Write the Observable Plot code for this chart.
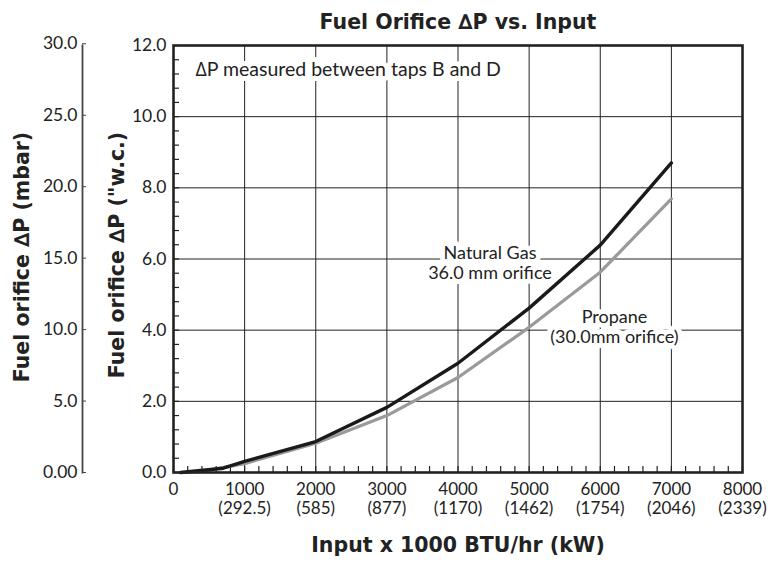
<!DOCTYPE html>
<html><head><meta charset="utf-8">
<script src="https://cdn.jsdelivr.net/npm/d3@7"></script>
<script src="https://cdn.jsdelivr.net/npm/@observablehq/plot@0.6"></script>
<style>
body{margin:0;background:#fff;}
svg{display:block}
</style>
</head><body><div id="chart"></div>
<script>
// --- data ---
const naturalGasInput = [100, 700, 1000, 2000, 3000, 4000, 5000, 6000, 7000];   // x 1000 BTU/hr
const naturalGasDP    = [0.0, 0.12, 0.31, 0.87, 1.83, 3.07, 4.62, 6.39, 8.70];  // "w.c.
const propaneInput    = [100, 400, 1000, 2000, 3000, 4000, 5000, 6000, 7000];
const propaneDP       = [0.0, 0.03, 0.25, 0.82, 1.60, 2.67, 4.08, 5.63, 7.69];

const xTicks   = [0, 1000, 2000, 3000, 4000, 5000, 6000, 7000, 8000];
const kwLabels = ["", "292.5", "585", "877", "1170", "1462", "1754", "2046", "2339"];
const yTicks   = [0, 2, 4, 6, 8, 10, 12];
const mbarTicks  = [0, 5, 10, 15, 20, 25, 30];
const mbarLabels = ["0.00", "5.0", "10.0", "15.0", "20.0", "25.0", "30.0"];
const MBAR_PER_INWC = 2.49;

const title      = "Fuel Orifice \u2206P vs. Input";
const noteText   = "\u2206P measured between taps B and D";
const ngLabel    = "Natural Gas\n36.0 mm orifice";
const lpLabel    = "Propane\n(30.0mm orifice)";
const xTitle     = "Input x 1000 BTU/hr (kW)";
const yTitleWC   = "Fuel orifice \u2206P (\"w.c.)";
const yTitleMbar = "Fuel orifice \u2206P (mbar)";

// --- build table ---
const series = [
  ...naturalGasInput.map((x, i) => ({fuel: "ng", x, y: naturalGasDP[i]})),
  ...propaneInput.map((x, i) => ({fuel: "lp", x, y: propaneDP[i]}))
];
const xMinor = d3.range(0, 8001, 200);
const yMinor = d3.range(0, 12.01, 0.4);
const kwFor = new Map(xTicks.map((v, i) => [v, kwLabels[i] ? `(${kwLabels[i]})` : null]));

const ink = "#222";
const font = "Lato, 'Open Sans', sans-serif";
const boldFont = "'DejaVu Sans', sans-serif";

const chart = Plot.plot({
  width: 770,
  height: 561,
  marginLeft: 173,
  marginRight: 28,
  marginTop: 45,
  marginBottom: 89,
  style: {fontFamily: font, fontSize: "17px", color: ink, background: "#fff"},
  x: {domain: [0, 8000]},
  y: {domain: [0, 12]},
  marks: [
    Plot.gridX(xTicks, {stroke: ink, strokeOpacity: 1, strokeWidth: 1}),
    Plot.gridY(yTicks, {stroke: ink, strokeOpacity: 1, strokeWidth: 1}),
    // inner minor ticks
    Plot.axisY(yMinor, {anchor: "left", tickSize: 6, dx: 6, tickFormat: () => null, label: null, stroke: ink, strokeWidth: 1.2}),
    Plot.axisX(xMinor, {anchor: "bottom", tickSize: 6, dy: -6, tickFormat: () => null, label: null, stroke: ink, strokeWidth: 1.2}),
    // main axes labels
    Plot.axisY(yTicks, {anchor: "left", tickSize: 0, tickPadding: 7, tickFormat: d3.format(".1f"), label: null, fontSize: 17.5}),
    Plot.axisX(xTicks, {anchor: "bottom", tickSize: 0, tickPadding: 10, tickFormat: d => String(d), label: null, fontSize: 17}),
    Plot.axisX(xTicks, {anchor: "bottom", tickSize: 0, tickPadding: 29, tickFormat: d => kwFor.get(d), label: null, fontSize: 17}),
    // secondary mbar axis
    Plot.frame({anchor: "left", dx: -91, stroke: "#444", strokeWidth: 1.8}),
    Plot.axisY(mbarTicks.map(m => m / MBAR_PER_INWC), {anchor: "left", dx: -87, tickSize: 4, tickPadding: 5,
      tickFormat: d => mbarLabels[mbarTicks.indexOf(Math.round(d * MBAR_PER_INWC))], label: null, fontSize: 17.5, stroke: "#444"}),
    // curves
    Plot.line(series.filter(d => d.fuel === "lp"), {x: "x", y: "y", stroke: "#9a9a9a", strokeWidth: 3.2}),
    Plot.line(series.filter(d => d.fuel === "ng"), {x: "x", y: "y", stroke: "#1a1a1a", strokeWidth: 3.4}),
    Plot.frame({stroke: ink, strokeWidth: 2.6}),
    // annotations
    Plot.text([noteText], {frameAnchor: "top-left", dx: 22, dy: 24, textAnchor: "start", lineAnchor: "middle", fontSize: 19.5, fill: ink, stroke: "white", strokeWidth: 10}),
    Plot.text([ngLabel], {x: () => 4450, y: () => 5.9, fontSize: 18, lineHeight: 1.1, fill: ink, stroke: "white", strokeWidth: 10}),
    Plot.text([lpLabel], {x: () => 6200, y: () => 4.1, fontSize: 18, lineHeight: 1.1, fill: ink, stroke: "white", strokeWidth: 10}),
    // titles
    Plot.text([title], {frameAnchor: "top", dy: -23, lineAnchor: "middle", fontFamily: boldFont, fontSize: 20.5, fontWeight: "bold", fill: ink}),
    Plot.text([xTitle], {frameAnchor: "bottom", dy: 73, lineAnchor: "middle", fontFamily: boldFont, fontSize: 20.5, fontWeight: "bold", fill: ink}),
    Plot.text([yTitleWC], {frameAnchor: "left", dx: -56, dy: -4, textAnchor: "middle", lineAnchor: "middle", rotate: -90, fontFamily: boldFont, fontSize: 20.5, fontWeight: "bold", fill: ink}),
    Plot.text([yTitleMbar], {frameAnchor: "left", dx: -151, dy: -2, textAnchor: "middle", lineAnchor: "middle", rotate: -90, fontFamily: boldFont, fontSize: 20.5, fontWeight: "bold", fill: ink})
  ]
});
document.getElementById("chart").appendChild(chart);
</script>
</body></html>
